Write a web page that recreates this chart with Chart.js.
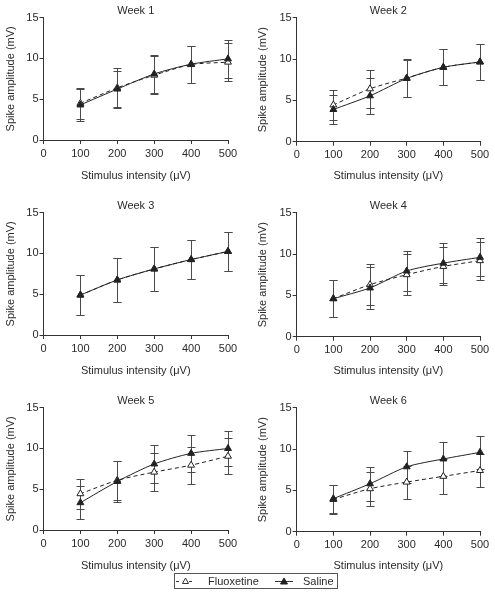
<!DOCTYPE html>
<html>
<head>
<meta charset="utf-8">
<script src="https://cdn.jsdelivr.net/npm/chart.js@4.4.1/dist/chart.umd.min.js"></script>
<style>
html,body{margin:0;padding:0;background:#fff;}
body{width:495px;height:602px;position:relative;overflow:hidden;font-family:"Liberation Sans",Arial,sans-serif;color:#2a2a2a;}
canvas.panel{position:absolute;}
#legend{position:absolute;left:174px;top:573px;width:162px;height:14px;border:1px solid #555;font-size:11px;line-height:14px;}
#legend span{position:absolute;top:0;}
#legend svg{position:absolute;top:0;}
</style>
</head>
<body>
<canvas id="c1" class="panel" width="248" height="195" style="left:0;top:0"></canvas>
<canvas id="c2" class="panel" width="247" height="195" style="left:248px;top:0"></canvas>
<canvas id="c3" class="panel" width="248" height="195" style="left:0;top:195px"></canvas>
<canvas id="c4" class="panel" width="247" height="195" style="left:248px;top:195px"></canvas>
<canvas id="c5" class="panel" width="248" height="195" style="left:0;top:390px"></canvas>
<canvas id="c6" class="panel" width="247" height="195" style="left:248px;top:390px"></canvas>
<div id="legend">
  <svg width="20" height="14" style="left:0px">
    <line x1="1" y1="7.5" x2="4" y2="7.5" stroke="#333" stroke-width="1"/>
    <polygon points="10.5,4 13.5,9.5 7.5,9.5" fill="#fff" stroke="#333" stroke-width="1"/>
    <line x1="14" y1="7.5" x2="17" y2="7.5" stroke="#333" stroke-width="1"/>
  </svg>
  <span style="left:33px">Fluoxetine</span>
  <svg width="20" height="14" style="left:100px">
    <line x1="0" y1="7.5" x2="18" y2="7.5" stroke="#333" stroke-width="1"/>
    <polygon points="9,4 12.5,10 5.5,10" fill="#222" stroke="#222" stroke-width="1"/>
  </svg>
  <span style="left:128px">Saline</span>
</div>
<script>
// ---- Data ----
const stimulus = [100, 200, 300, 400, 500];
const xTicks = [0, 100, 200, 300, 400, 500];
const yTicks = [0, 5, 10, 15];
const weekTitles = ['Week 1', 'Week 2', 'Week 3', 'Week 4', 'Week 5', 'Week 6'];
const seriesNames = ['Fluoxetine', 'Saline'];

const week1Fluoxetine    = [4.5, 6.4, 7.95, 9.25, 9.55];
const week1FluoxetineErr = [1.9, 2.45, 2.3, 2.3, 2.3];
const week1Saline        = [4.3, 6.25, 8.1, 9.3, 9.95];
const week1SalineErr     = [2.0, 2.25, 2.35, 2.25, 2.3];

const week2Fluoxetine    = [4.45, 6.4, 7.7, 9.0, 9.65];
const week2FluoxetineErr = [1.8, 2.3, 2.25, 2.2, 2.2];
const week2Saline        = [3.9, 5.55, 7.65, 9.0, 9.65];
const week2SalineErr     = [1.8, 2.2, 2.25, 2.2, 2.2];

const week3Fluoxetine    = [4.9, 6.75, 8.1, 9.25, 10.25];
const week3FluoxetineErr = [2.4, 2.7, 2.65, 2.4, 2.4];
const week3Saline        = [4.9, 6.75, 8.1, 9.25, 10.25];
const week3SalineErr     = [2.4, 2.7, 2.65, 2.4, 2.4];

const week4Fluoxetine    = [4.6, 6.3, 7.5, 8.5, 9.2];
const week4FluoxetineErr = [2.2, 2.5, 2.45, 2.3, 2.3];
const week4Saline        = [4.6, 5.9, 7.95, 8.9, 9.6];
const week4SalineErr     = [2.2, 2.5, 2.45, 2.45, 2.3];

const week5Fluoxetine    = [4.45, 6.1, 7.1, 7.95, 9.05];
const week5FluoxetineErr = [1.85, 2.4, 2.35, 2.25, 2.2];
const week5Saline        = [3.35, 5.95, 8.1, 9.4, 10.0];
const week5SalineErr     = [2.0, 2.5, 2.3, 2.3, 2.2];

const week6Fluoxetine    = [3.9, 5.2, 6.0, 6.7, 7.4];
const week6FluoxetineErr = [1.7, 2.05, 2.0, 2.1, 2.05];
const week6Saline        = [4.0, 5.8, 7.85, 8.8, 9.6];
const week6SalineErr     = [1.7, 2.05, 1.95, 2.1, 2.0];

const weeks = [
  [week1Fluoxetine, week1FluoxetineErr, week1Saline, week1SalineErr],
  [week2Fluoxetine, week2FluoxetineErr, week2Saline, week2SalineErr],
  [week3Fluoxetine, week3FluoxetineErr, week3Saline, week3SalineErr],
  [week4Fluoxetine, week4FluoxetineErr, week4Saline, week4SalineErr],
  [week5Fluoxetine, week5FluoxetineErr, week5Saline, week5SalineErr],
  [week6Fluoxetine, week6FluoxetineErr, week6Saline, week6SalineErr]
];

// ---- Rendering ----
const FONT = '"Liberation Sans", Arial, sans-serif';
const TXT = '#2a2a2a';
const AX = '#333';

const errorBarPlugin = {
  id: 'errorBars',
  beforeDatasetsDraw(chart) {
    const {ctx} = chart;
    const xs = chart.scales.x, ys = chart.scales.y;
    ctx.save();
    ctx.strokeStyle = '#4a4a4a';
    ctx.lineWidth = 1;
    chart.data.datasets.forEach(ds => {
      ds.data.forEach((pt, j) => {
        const e = ds.errors[j];
        const px = Math.round(xs.getPixelForValue(pt.x)) + 0.5;
        const yt = Math.round(ys.getPixelForValue(pt.y + e)) + 0.5;
        const yb = Math.round(ys.getPixelForValue(pt.y - e)) + 0.5;
        ctx.beginPath();
        ctx.moveTo(px, yt); ctx.lineTo(px, yb);
        ctx.moveTo(px - 4, yt); ctx.lineTo(px + 4, yt);
        ctx.moveTo(px - 4, yb); ctx.lineTo(px + 4, yb);
        ctx.stroke();
      });
    });
    ctx.restore();
  }
};

function makePanel(idx) {
  const isLeft = idx % 2 === 0;
  const [fm, fe, sm, se] = weeks[idx];
  const yAxisWidth = isLeft ? 43.5 : 48.7;
  const xAxisHeight = isLeft ? 55 : 53.3;
  const padRight = isLeft ? 20 : 15;
  const yTitlePad = isLeft ? 4.4 : 8.4;
  const toPts = arr => stimulus.map((x, i) => ({x, y: arr[i]}));
  new Chart(document.getElementById('c' + (idx + 1)), {
    type: 'line',
    data: {
      datasets: [
        {
          label: seriesNames[0],
          data: toPts(fm),
          errors: fe,
          order: 2,
          borderColor: '#222',
          borderWidth: 1,
          borderDash: [4, 3],
          tension: 0.25,
          pointStyle: 'triangle',
          pointRadius: 4,
          pointBorderWidth: 1,
          pointBackgroundColor: '#fff',
          pointBorderColor: '#222',
          clip: false
        },
        {
          label: seriesNames[1],
          data: toPts(sm),
          errors: se,
          order: 1,
          borderColor: '#222',
          borderWidth: 1,
          tension: 0.25,
          pointStyle: 'triangle',
          pointRadius: 4,
          pointBorderWidth: 1,
          pointBackgroundColor: '#222',
          pointBorderColor: '#222',
          clip: false
        }
      ]
    },
    options: {
      responsive: false,
      animation: false,
      events: [],
      layout: {padding: {left: 0, right: padRight, top: 0, bottom: 0}},
      plugins: {
        legend: {display: false},
        tooltip: {enabled: false},
        title: {
          display: true,
          text: weekTitles[idx],
          fullSize: false,
          color: TXT,
          font: {family: FONT, size: 11, weight: 'normal'},
          padding: {top: 4, bottom: 0.5}
        }
      },
      scales: {
        x: {
          type: 'linear',
          min: 0, max: 500,
          afterBuildTicks: s => { s.ticks = xTicks.map(v => ({value: v})); },
          afterFit: s => { s.height = xAxisHeight; },
          grid: {drawOnChartArea: false, drawTicks: true, tickLength: 4, color: AX, tickColor: AX},
          border: {display: true, color: AX, width: 1},
          ticks: {color: TXT, font: {family: FONT, size: 11}, padding: 3, maxRotation: 0},
          title: {display: true, text: 'Stimulus intensity (μV)', color: TXT,
                  font: {family: FONT, size: 11}, padding: {top: 0, bottom: 12.4}}
        },
        y: {
          type: 'linear',
          min: 0, max: 15,
          afterBuildTicks: s => { s.ticks = yTicks.map(v => ({value: v})); },
          afterFit: s => { s.width = yAxisWidth; },
          grid: {drawOnChartArea: false, drawTicks: true, tickLength: 4, color: AX, tickColor: AX},
          border: {display: true, color: AX, width: 1},
          ticks: {color: TXT, font: {family: FONT, size: 11}, padding: 1},
          title: {display: true, text: 'Spike amplitude (mV)', color: TXT,
                  font: {family: FONT, size: 11}, padding: {top: yTitlePad, bottom: 0}}
        }
      }
    },
    plugins: [errorBarPlugin]
  });
}

for (let i = 0; i < 6; i++) makePanel(i);
</script>
</body>
</html>
